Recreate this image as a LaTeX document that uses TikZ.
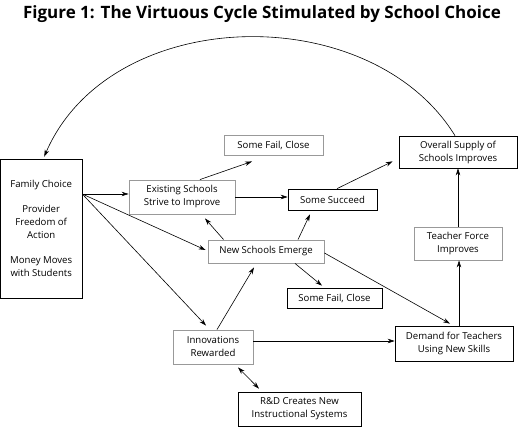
\documentclass[tikz,border=0pt]{standalone}
\usepackage{fontspec}
\setmainfont{Open Sans}
\usetikzlibrary{arrows.meta}
\begin{document}
\begin{tikzpicture}[x=1pt,y=-1pt,
  box/.style={draw=black,line width=0.7pt,inner sep=0pt,align=center,
    font=\fontsize{9.6}{13}\selectfont},
  gbox/.style={box,draw=black!40,line width=0.9pt},
  arr/.style={-{Stealth[length=7pt,width=4.5pt]},line width=0.6pt},
  darr/.style={{Stealth[length=7pt,width=4.5pt]}-{Stealth[length=7pt,width=4.5pt]},line width=0.6pt}]
\useasboundingbox (0,0) rectangle (518,427);
\node (title) at (262,14) {\fontsize{17}{19}\selectfont\bfseries Figure 1: The Virtuous Cycle Stimulated by School Choice};
\node[box,minimum width=81.5pt,minimum height=139pt] (fam) at (41.2,228.5)
  {Family Choice\\[12pt]Provider\\Freedom of\\Action\\[12pt]Money Moves\\with Students};
\node[gbox,minimum width=106pt,minimum height=34pt] (exist) at (182,197) {Existing Schools\\Strive to Improve};
\node[gbox,minimum width=99pt,minimum height=20pt] (fail1) at (273.5,145) {Some Fail, Close};
\node[box,minimum width=89pt,minimum height=21pt] (succ) at (332.5,199.5) {Some Succeed};
\node[box,minimum width=118pt,minimum height=32pt] (over) at (458,152) {Overall Supply of\\Schools Improves};
\node[gbox,minimum width=116pt,minimum height=23pt] (news) at (266,251.5) {New Schools Emerge};
\node[box,minimum width=95pt,minimum height=20pt] (fail2) at (334.5,298) {Some Fail, Close};
\node[gbox,minimum width=88pt,minimum height=33pt] (teach) at (458,243.5) {Teacher Force\\Improves};
\node[gbox,minimum width=80pt,minimum height=34pt] (innov) at (213,347) {Innovations\\Rewarded};
\node[box,minimum width=118pt,minimum height=35pt] (demand) at (454,343.5) {Demand for Teachers\\Using New Skills};
\node[box,minimum width=123pt,minimum height=34pt] (rd) at (299.5,409) {R\&D Creates New\\Instructional Systems};
% connectors
\draw[arr] ([yshift=34.5pt]fam.east) -- ([yshift=3pt]exist.west);
\draw[arr] ([yshift=34.5pt]fam.east) -- ([xshift=-2pt,yshift=1.5pt]news.west);
\draw[arr] ([yshift=34.5pt]fam.east) -- ([xshift=-7pt,yshift=4pt]innov.north);
\draw[arr] ([xshift=18pt]exist.north) -- ([xshift=-21.5pt,yshift=-6pt]fail1.south);
\draw[arr] (exist.east) -- ([yshift=2.5pt]succ.west);
\draw[arr] ([xshift=4.5pt]succ.north) -- ([xshift=-6pt,yshift=7pt]over.south west);
\draw[arr] ([xshift=16pt]news.north west) -- ([xshift=23pt,yshift=-4pt]exist.south);
\draw[arr] ([xshift=32pt]news.north) -- ([xshift=-22.5pt,yshift=-4pt]succ.south);
\draw[arr] ([xshift=29pt]news.south) -- ([xshift=-12.5pt,yshift=2pt]fail2.north);
\draw[arr] ([yshift=-1.5pt]news.east) -- ([xshift=-4pt,yshift=2pt]demand.north);
\draw[arr] ([xshift=4pt]innov.north) -- ([xshift=-12pt,yshift=-4pt]news.south);
\draw[arr] ([yshift=6pt]innov.east) -- ([yshift=2.5pt]demand.west);
\draw[darr] ([xshift=25pt,yshift=-3pt]innov.south) -- ([xshift=-40.5pt,yshift=3pt]rd.north);
\draw[arr] ([xshift=5pt]demand.north) -- ([xshift=1pt]teach.south);
\draw[arr] (teach.north) -- (over.south);
\draw[arr] ([xshift=-3pt]over.north) .. controls (370,-2) and (110,4) .. ([xshift=3pt,yshift=2pt]fam.north);
\end{tikzpicture}
\end{document}
